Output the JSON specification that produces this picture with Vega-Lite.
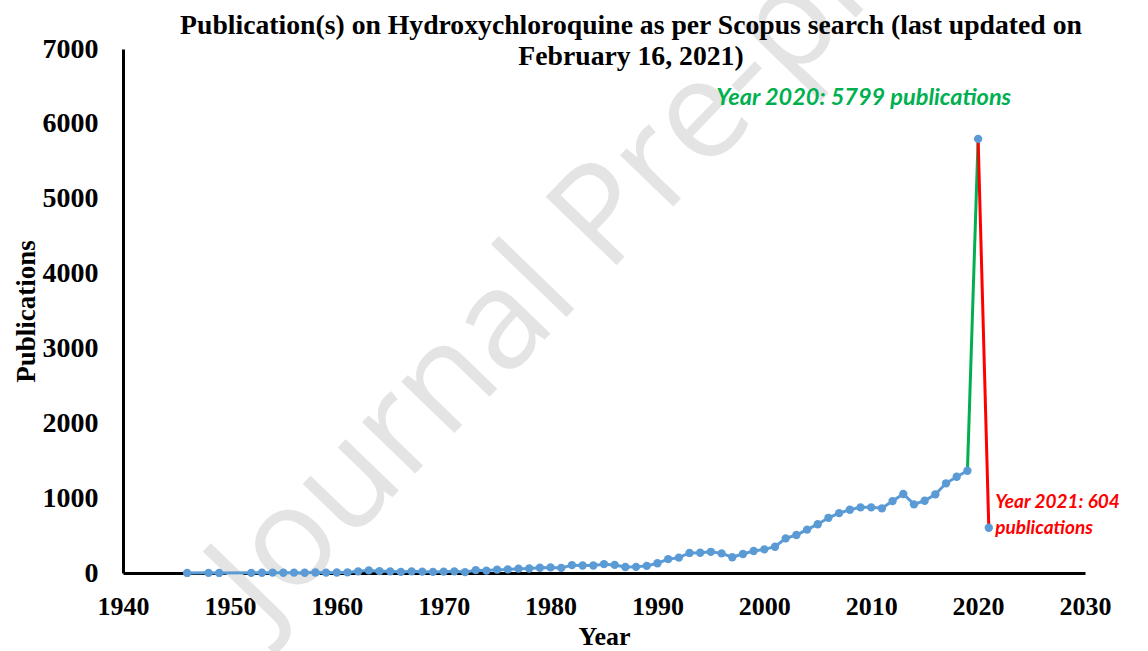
{
  "$schema": "https://vega.github.io/schema/vega-lite/v6.json",
  "width": 962,
  "height": 524,
  "autosize": {"type": "none"},
  "padding": {"left": 123, "top": 49, "right": 63, "bottom": 78},
  "background": "white",
  "config": {"view": {"stroke": null}, "font": "Liberation Serif"},
  "title": {
    "text": ["Publication(s) on Hydroxychloroquine as per Scopus search (last updated on", "February 16, 2021)"],
    "font": "Liberation Serif",
    "fontWeight": "bold",
    "fontSize": 27.7,
    "lineHeight": 31,
    "color": "black",
    "anchor": "middle",
    "frame": "group",
    "baseline": "top",
    "offset": -315,
    "dx": 27
  },
  "datasets": {
    "pubs": [
      {"year": 1946, "publications": 1}, {"year": 1948, "publications": 2}, {"year": 1949, "publications": 1},
      {"year": 1952, "publications": 2}, {"year": 1953, "publications": 3}, {"year": 1954, "publications": 5},
      {"year": 1955, "publications": 4}, {"year": 1956, "publications": 5}, {"year": 1957, "publications": 4},
      {"year": 1958, "publications": 6}, {"year": 1959, "publications": 5}, {"year": 1960, "publications": 6},
      {"year": 1961, "publications": 8}, {"year": 1962, "publications": 22}, {"year": 1963, "publications": 35},
      {"year": 1964, "publications": 25}, {"year": 1965, "publications": 22}, {"year": 1966, "publications": 15},
      {"year": 1967, "publications": 22}, {"year": 1968, "publications": 18}, {"year": 1969, "publications": 15},
      {"year": 1970, "publications": 18}, {"year": 1971, "publications": 22}, {"year": 1972, "publications": 12},
      {"year": 1973, "publications": 38}, {"year": 1974, "publications": 32}, {"year": 1975, "publications": 45},
      {"year": 1976, "publications": 48}, {"year": 1977, "publications": 58}, {"year": 1978, "publications": 60},
      {"year": 1979, "publications": 70}, {"year": 1980, "publications": 75}, {"year": 1981, "publications": 68},
      {"year": 1982, "publications": 105}, {"year": 1983, "publications": 100}, {"year": 1984, "publications": 100},
      {"year": 1985, "publications": 118}, {"year": 1986, "publications": 108}, {"year": 1987, "publications": 80},
      {"year": 1988, "publications": 82}, {"year": 1989, "publications": 95}, {"year": 1990, "publications": 130},
      {"year": 1991, "publications": 185}, {"year": 1992, "publications": 205}, {"year": 1993, "publications": 268},
      {"year": 1994, "publications": 270}, {"year": 1995, "publications": 283}, {"year": 1996, "publications": 262},
      {"year": 1997, "publications": 210}, {"year": 1998, "publications": 254}, {"year": 1999, "publications": 294},
      {"year": 2000, "publications": 316}, {"year": 2001, "publications": 351}, {"year": 2002, "publications": 463},
      {"year": 2003, "publications": 507}, {"year": 2004, "publications": 580}, {"year": 2005, "publications": 652},
      {"year": 2006, "publications": 737}, {"year": 2007, "publications": 800}, {"year": 2008, "publications": 845},
      {"year": 2009, "publications": 877}, {"year": 2010, "publications": 877}, {"year": 2011, "publications": 864},
      {"year": 2012, "publications": 961}, {"year": 2013, "publications": 1055}, {"year": 2014, "publications": 917},
      {"year": 2015, "publications": 965}, {"year": 2016, "publications": 1051}, {"year": 2017, "publications": 1198},
      {"year": 2018, "publications": 1286}, {"year": 2019, "publications": 1366}, {"year": 2020, "publications": 5799},
      {"year": 2021, "publications": 604}
    ],
    "notes": [
      {"year": 2009.3, "publications": 6340, "label": "Year 2020: 5799 publications", "group": "g"},
      {"year": 2021.6, "publications": 950, "label": "Year 2021: 604", "group": "r"},
      {"year": 2021.6, "publications": 600, "label": "publications", "group": "r"}
    ],
    "mark": [
      {"year": 1986.5, "publications": 4950, "label": "Journal Pre-proof"}
    ]
  },
  "layer": [
    {
      "data": {"name": "mark"},
      "mark": {"type": "text", "font": "Open Sans", "fontSize": 138, "angle": -46, "color": "#e4e4e4", "align": "center", "baseline": "middle"},
      "encoding": {
        "x": {"field": "year", "type": "quantitative"},
        "y": {"field": "publications", "type": "quantitative"},
        "text": {"field": "label"}
      }
    },
    {
      "data": {"name": "pubs"},
      "transform": [{"filter": "datum.year <= 2019"}],
      "mark": {"type": "line", "color": "#5B9BD5", "strokeWidth": 3},
      "encoding": {
        "x": {"field": "year", "type": "quantitative", "scale": {"domain": [1940, 2030], "nice": false, "zero": false},
          "axis": {"title": "Year", "values": [1940, 1950, 1960, 1970, 1980, 1990, 2000, 2010, 2020, 2030], "format": "d",
            "grid": false, "ticks": false, "tickSize": 0, "domainColor": "black", "domainWidth": 3, "labelFlush": false,
            "labelFont": "Liberation Serif", "labelFontWeight": "bold", "labelFontSize": 26, "labelColor": "black", "labelPadding": 20,
            "titleFont": "Liberation Serif", "titleFontWeight": "bold", "titleFontSize": 26, "titleColor": "black", "titlePadding": 4}},
        "y": {"field": "publications", "type": "quantitative", "scale": {"domain": [0, 7000], "nice": false},
          "axis": {"title": "Publications", "values": [0, 1000, 2000, 3000, 4000, 5000, 6000, 7000], "format": "d",
            "grid": false, "ticks": false, "tickSize": 0, "domainColor": "black", "domainWidth": 3, "labelFlush": false,
            "labelFont": "Liberation Serif", "labelFontWeight": "bold", "labelFontSize": 28, "labelColor": "black", "labelPadding": 25,
            "titleFont": "Liberation Serif", "titleFontWeight": "bold", "titleFontSize": 27, "titleColor": "black", "titlePadding": 2}}
      }
    },
    {
      "data": {"name": "pubs"},
      "transform": [{"filter": "datum.year >= 2019 && datum.year <= 2020"}],
      "mark": {"type": "line", "color": "#00B050", "strokeWidth": 3},
      "encoding": {
        "x": {"field": "year", "type": "quantitative"},
        "y": {"field": "publications", "type": "quantitative"}
      }
    },
    {
      "data": {"name": "pubs"},
      "transform": [{"filter": "datum.year >= 2020"}],
      "mark": {"type": "line", "color": "#FF0000", "strokeWidth": 3},
      "encoding": {
        "x": {"field": "year", "type": "quantitative"},
        "y": {"field": "publications", "type": "quantitative"}
      }
    },
    {
      "data": {"name": "pubs"},
      "mark": {"type": "point", "filled": true, "opacity": 1, "color": "#5B9BD5", "size": 70},
      "encoding": {
        "x": {"field": "year", "type": "quantitative"},
        "y": {"field": "publications", "type": "quantitative"}
      }
    },
    {
      "data": {"name": "notes"},
      "transform": [{"filter": "datum.group == 'g'"}],
      "mark": {"type": "text", "font": "Lato", "fontWeight": "bold", "fontStyle": "italic", "fontSize": 23.5, "color": "#00B050", "align": "center", "baseline": "middle"},
      "encoding": {
        "x": {"field": "year", "type": "quantitative"},
        "y": {"field": "publications", "type": "quantitative"},
        "text": {"field": "label"}
      }
    },
    {
      "data": {"name": "notes"},
      "transform": [{"filter": "datum.group == 'r'"}],
      "mark": {"type": "text", "font": "Lato", "fontWeight": "bold", "fontStyle": "italic", "fontSize": 19, "color": "#FF0000", "align": "left", "baseline": "middle"},
      "encoding": {
        "x": {"field": "year", "type": "quantitative"},
        "y": {"field": "publications", "type": "quantitative"},
        "text": {"field": "label"}
      }
    }
  ]
}
